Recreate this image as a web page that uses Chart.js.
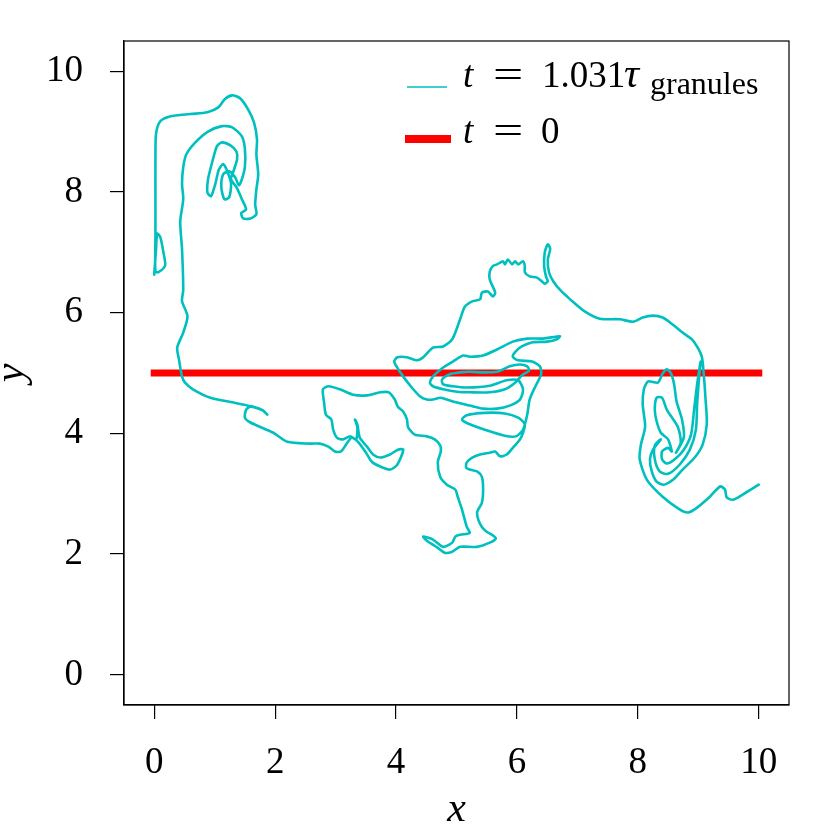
<!DOCTYPE html>
<html>
<head>
<meta charset="utf-8">
<script src="https://cdn.jsdelivr.net/npm/chart.js@4.4.1/dist/chart.umd.min.js"></script>
<style>
  html, body { margin: 0; padding: 0; background: #fff; }
</style>
</head>
<body>
<canvas id="chart" width="830" height="830"></canvas>
<script>
// material line at t = 1.031 tau_granules, traced point by point (x, y)
const curveX = [
  0.00, 0.03, 0.05, 0.10, 0.15, 0.18, 0.07, 0.02, 0.02, 0.02,
  0.02, 0.03, 0.10, 0.26, 0.60, 0.88, 1.06, 1.17, 1.29, 1.42,
  1.55, 1.65, 1.70, 1.69, 1.72, 1.69, 1.67, 1.69, 1.59, 1.47,
  1.44, 1.52, 1.45, 1.36, 1.27, 1.32, 1.37, 1.36, 1.26, 1.12,
  1.04, 0.99, 0.94, 0.89, 0.88, 0.94, 1.01, 1.07, 1.14, 1.21,
  1.27, 1.24, 1.16, 1.11, 1.14, 1.24, 1.34, 1.40, 1.45, 1.50,
  1.50, 1.45, 1.29, 1.12, 0.89, 0.68, 0.53, 0.48, 0.46, 0.48,
  0.43, 0.46, 0.48, 0.46, 0.55, 0.48, 0.38, 0.41, 0.46, 0.51,
  0.64, 0.93, 1.31, 1.64, 1.80, 1.87, 1.79, 1.59, 1.52, 1.50,
  1.59, 1.97, 2.20, 2.58, 2.74, 2.88, 2.99, 3.09, 3.17, 3.27,
  3.37, 3.49, 3.60, 3.74, 3.90, 4.02, 4.12, 4.03, 3.90, 3.74,
  3.62, 3.52, 3.40, 3.36, 3.32, 3.36, 3.34, 3.24, 3.12, 3.02,
  2.96, 2.93, 2.84, 2.81, 2.79, 2.88, 3.07, 3.29, 3.52, 3.74,
  3.88, 3.98, 4.03, 4.12, 4.18, 4.20, 4.31, 4.51, 4.64, 4.73,
  4.74, 4.69, 4.73, 4.84, 4.98, 5.02, 5.09, 5.17, 5.22, 5.06,
  4.98, 4.93, 4.78, 4.61, 4.45, 4.51, 4.68, 4.81, 4.93, 5.06,
  5.34, 5.55, 5.65, 5.60, 5.50, 5.42, 5.36, 5.34, 5.36, 5.42,
  5.44, 5.42, 5.34, 5.22, 5.16, 5.17, 5.26, 5.39, 5.55, 5.64,
  5.72, 5.83, 5.93, 6.05, 6.10, 6.13, 6.02, 5.80, 5.47, 5.17,
  5.09, 5.22, 5.47, 5.80, 5.98, 6.10, 6.17, 6.21, 6.31, 6.40,
  6.38, 6.25, 6.02, 5.93, 5.98, 6.08, 6.26, 6.50, 6.66, 6.71,
  6.43, 6.17, 5.93, 5.67, 5.44, 5.22, 5.11, 4.94, 4.78, 4.61,
  4.56, 4.61, 4.78, 5.01, 5.22, 5.55, 5.80, 5.97, 6.08, 6.20,
  6.17, 6.05, 5.88, 5.67, 5.44, 5.22, 5.06, 4.89, 4.76, 4.78,
  4.94, 5.17, 5.55, 5.83, 6.02, 6.10, 6.05, 5.88, 5.67, 5.44,
  5.22, 5.01, 4.84, 4.73, 4.61, 4.51, 4.40, 4.26, 4.12, 4.02,
  3.97, 4.02, 4.18, 4.35, 4.45, 4.61, 4.78, 4.93, 5.06, 5.14,
  5.27, 5.39, 5.42, 5.52, 5.60, 5.64, 5.55, 5.55, 5.60, 5.67,
  5.77, 5.80, 5.85, 5.92, 5.97, 6.02, 6.10, 6.13, 6.13, 6.21,
  6.33, 6.41, 6.46, 6.51, 6.48, 6.45, 6.46, 6.51, 6.55, 6.51,
  6.53, 6.60, 6.71, 6.88, 7.12, 7.37, 7.70, 7.92, 8.08, 8.25,
  8.41, 8.58, 8.74, 8.89, 8.99, 9.06, 9.09, 9.12, 9.14, 9.07,
  8.94, 8.74, 8.58, 8.43, 8.31, 8.23, 8.20, 8.25, 8.38, 8.28,
  8.28, 8.36, 8.50, 8.69, 8.86, 8.96, 8.98, 9.01, 9.04, 8.98,
  8.93, 8.88, 8.76, 8.61, 8.48, 8.40, 8.40, 8.50, 8.56, 8.50,
  8.38, 8.31, 8.28, 8.31, 8.40, 8.48, 8.66, 8.71, 8.63, 8.76,
  8.73, 8.64, 8.60, 8.55, 8.48, 8.41, 8.33, 8.17, 8.10, 8.08,
  8.12, 8.05, 8.03, 8.15, 8.41, 8.69, 8.83, 8.98, 9.19, 9.36,
  9.44, 9.47, 9.57, 9.74, 10.00
];
const curveY = [
  6.63, 7.05, 7.31, 7.25, 7.01, 6.78, 6.67, 6.68, 7.21, 7.88,
  8.54, 8.96, 9.17, 9.25, 9.29, 9.32, 9.40, 9.54, 9.60, 9.55,
  9.37, 9.15, 8.87, 8.62, 8.29, 8.04, 7.79, 7.63, 7.56, 7.56,
  7.65, 7.71, 7.88, 8.08, 8.21, 8.37, 8.54, 8.67, 8.77, 8.82,
  8.76, 8.61, 8.42, 8.21, 7.99, 7.93, 8.13, 8.37, 8.46, 8.34,
  8.14, 7.91, 7.88, 8.08, 8.29, 8.34, 8.24, 8.11, 8.21, 8.42,
  8.71, 8.92, 9.07, 9.09, 9.00, 8.82, 8.62, 8.41, 8.13, 7.88,
  7.51, 7.05, 6.38, 6.19, 5.94, 5.67, 5.42, 5.22, 4.94, 4.84,
  4.73, 4.59, 4.51, 4.44, 4.38, 4.31, 4.38, 4.44, 4.39, 4.26,
  4.18, 4.01, 3.86, 3.83, 3.83, 3.78, 3.70, 3.70, 3.81, 3.93,
  3.86, 3.70, 3.53, 3.45, 3.40, 3.48, 3.73, 3.73, 3.65, 3.60,
  3.65, 3.78, 3.93, 4.15, 4.23, 4.10, 3.90, 3.95, 3.90, 3.93,
  4.06, 4.23, 4.31, 4.51, 4.73, 4.78, 4.73, 4.64, 4.63, 4.68,
  4.68, 4.56, 4.44, 4.36, 4.23, 4.10, 3.98, 3.95, 3.90, 3.80,
  3.70, 3.52, 3.28, 3.15, 3.07, 2.95, 2.74, 2.45, 2.35, 2.32,
  2.29, 2.19, 2.12, 2.24, 2.29, 2.22, 2.11, 2.02, 2.04, 2.12,
  2.12, 2.19, 2.26, 2.31, 2.37, 2.45, 2.57, 2.69, 2.74, 2.85,
  3.07, 3.28, 3.37, 3.40, 3.43, 3.52, 3.60, 3.65, 3.68, 3.70,
  3.62, 3.65, 3.76, 3.90, 4.01, 4.15, 4.26, 4.33, 4.34, 4.30,
  4.23, 4.15, 4.06, 3.96, 3.95, 4.06, 4.31, 4.56, 4.79, 4.98,
  5.11, 5.19, 5.21, 5.27, 5.36, 5.44, 5.51, 5.52, 5.56, 5.61,
  5.57, 5.57, 5.52, 5.39, 5.29, 5.27, 5.29, 5.19, 5.09, 4.94,
  4.84, 4.78, 4.73, 4.69, 4.68, 4.68, 4.73, 4.84, 4.96, 5.04,
  5.11, 5.14, 5.11, 5.02, 5.01, 5.02, 5.01, 4.98, 4.89, 4.81,
  4.78, 4.76, 4.79, 4.88, 4.88, 4.73, 4.56, 4.46, 4.41, 4.41,
  4.46, 4.51, 4.56, 4.59, 4.56, 4.56, 4.61, 4.76, 4.94, 5.09,
  5.19, 5.26, 5.26, 5.21, 5.26, 5.42, 5.44, 5.56, 5.89, 6.10,
  6.19, 6.22, 6.33, 6.35, 6.27, 6.33, 6.55, 6.68, 6.77, 6.80,
  6.85, 6.80, 6.88, 6.80, 6.85, 6.80, 6.85, 6.77, 6.67, 6.60,
  6.58, 6.52, 6.48, 6.52, 6.60, 6.77, 7.00, 7.13, 7.06, 6.88,
  6.67, 6.52, 6.38, 6.22, 6.02, 5.90, 5.89, 5.85, 5.92, 5.95,
  5.92, 5.80, 5.67, 5.56, 5.42, 5.26, 4.98, 4.56, 4.15, 3.81,
  3.60, 3.40, 3.23, 3.15, 3.20, 3.37, 3.57, 3.73, 3.90, 3.80,
  3.57, 3.37, 3.33, 3.48, 3.73, 4.06, 4.48, 4.89, 5.19, 4.81,
  4.39, 3.98, 3.73, 3.57, 3.50, 3.57, 3.70, 3.76, 3.70, 3.90,
  4.01, 4.20, 4.39, 4.59, 4.59, 4.39, 4.11, 3.85, 3.68, 3.93,
  4.23, 4.53, 4.81, 4.99, 5.06, 4.99, 4.84, 4.86, 4.73, 4.48,
  4.11, 3.81, 3.57, 3.23, 2.95, 2.74, 2.69, 2.77, 2.95, 3.12,
  3.07, 2.94, 2.90, 2.99, 3.15
];

// initial line at t = 0
const startX = [0, 10];
const startY = [5, 5];

const CYAN = '#00bfbf';
const RED = '#ff0000';
const SERIF = '"Liberation Serif", "DejaVu Serif", serif';

const toPoints = (xs, ys) => xs.map((x, i) => ({ x: x, y: ys[i] }));

// box round the plot, like matplotlib spines
const framePlugin = {
  id: 'frame',
  afterDraw(chart) {
    const a = chart.chartArea;
    const ctx = chart.ctx;
    ctx.save();
    ctx.strokeStyle = '#000';
    ctx.lineWidth = 1.2;
    ctx.strokeRect(a.left, a.top, a.right - a.left, a.bottom - a.top);
    ctx.restore();
  }
};

// legend with the math labels (italic t and tau, subscript)
const mathLegend = {
  id: 'mathLegend',
  afterDraw(chart) {
    const ctx = chart.ctx;
    ctx.save();
    ctx.lineCap = 'butt';
    ctx.strokeStyle = CYAN;
    ctx.lineWidth = 1.5;
    ctx.beginPath(); ctx.moveTo(407, 87); ctx.lineTo(447, 87); ctx.stroke();
    ctx.strokeStyle = RED;
    ctx.lineWidth = 8;
    ctx.beginPath(); ctx.moveTo(405, 139); ctx.lineTo(451, 139); ctx.stroke();

    ctx.fillStyle = '#000';
    ctx.textBaseline = 'alphabetic';
    ctx.textAlign = 'left';
    const it = 'italic 37px ' + SERIF;
    const rm = '37px ' + SERIF;
    // first entry
    ctx.font = it; ctx.fillText('t', 463, 87);
    ctx.font = rm;
    ctx.save(); ctx.translate(493, 87); ctx.scale(1.45, 1); ctx.fillText('=', 0, 0); ctx.restore();
    ctx.fillText('1.031', 542, 87);
    ctx.font = 'italic 42px ' + SERIF; ctx.fillText('τ', 624, 87);
    ctx.font = '32px ' + SERIF; ctx.fillText('granules', 650, 94);
    // second entry
    ctx.font = it; ctx.fillText('t', 463, 143);
    ctx.font = rm;
    ctx.save(); ctx.translate(493, 143); ctx.scale(1.45, 1); ctx.fillText('=', 0, 0); ctx.restore();
    ctx.fillText('0', 541, 143);
    ctx.restore();
  }
};

new Chart(document.getElementById('chart'), {
  type: 'scatter',
  data: {
    datasets: [
      {
        label: 't = 1.031 tau_granules',
        data: toPoints(curveX, curveY),
        showLine: true,
        borderColor: CYAN,
        backgroundColor: CYAN,
        borderWidth: 2.6,
        borderJoinStyle: 'round',
        borderCapStyle: 'round',
        pointRadius: 0,
        tension: 0.25
      },
      {
        label: 't = 0',
        data: toPoints(startX, startY),
        showLine: true,
        borderColor: RED,
        backgroundColor: RED,
        borderWidth: 7,
        borderCapStyle: 'square',
        pointRadius: 0,
        tension: 0
      }
    ]
  },
  options: {
    responsive: false,
    animation: false,
    devicePixelRatio: 1,
    layout: { padding: { top: 41, right: 41, left: 0, bottom: 0 } },
    plugins: { legend: { display: false }, tooltip: { enabled: false } },
    scales: {
      x: {
        type: 'linear',
        min: -0.5,
        max: 10.5,
        ticks: {
          stepSize: 2,
          includeBounds: false,
          maxRotation: 0,
          color: '#000',
          padding: 22,
          font: { family: SERIF, size: 37 }
        },
        grid: { drawOnChartArea: false, tickLength: 14, color: '#000', lineWidth: 1.2 },
        border: { color: '#000', width: 1.2 },
        title: {
          display: true,
          text: 'x',
          color: '#000',
          font: { family: SERIF, size: 42, style: 'italic' },
          padding: { top: 0, bottom: -5 }
        },
        afterFit(scale) {
          scale.height = 125;
          scale.paddingLeft = 0;
          scale.paddingRight = 0;
        }
      },
      y: {
        type: 'linear',
        min: -0.5,
        max: 10.5,
        ticks: {
          stepSize: 2,
          includeBounds: false,
          color: '#000',
          padding: 27,
          font: { family: SERIF, size: 37 }
        },
        grid: { drawOnChartArea: false, tickLength: 14, color: '#000', lineWidth: 1.2 },
        border: { color: '#000', width: 1.2 },
        title: {
          display: true,
          text: 'y',
          color: '#000',
          font: { family: SERIF, size: 42, style: 'italic' },
          padding: { top: -13, bottom: 0 }
        },
        afterFit(scale) {
          scale.width = 124;
          scale.paddingTop = 0;
          scale.paddingBottom = 0;
        }
      }
    }
  },
  plugins: [framePlugin, mathLegend]
});
</script>
</body>
</html>
